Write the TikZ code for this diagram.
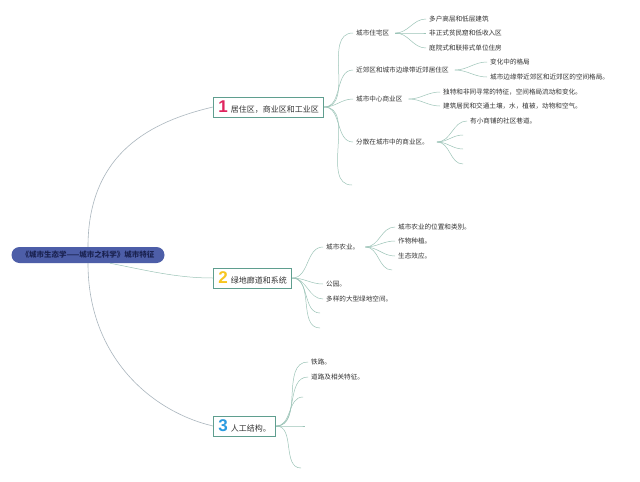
\documentclass[tikz,border=0pt]{standalone}
\usepackage{fontspec}
\setmainfont{Noto Sans CJK SC}
\newfontfamily\numfont{Liberation Sans}
\definecolor{rootc}{HTML}{4D5EA8}
\definecolor{roottext}{HTML}{1A2250}
\definecolor{boxc}{HTML}{5F9E8F}
\definecolor{linec}{HTML}{9CC4B8}
\definecolor{rootline}{HTML}{AAB6BE}
\definecolor{txt}{HTML}{333333}
\definecolor{numa}{HTML}{E0245E}
\definecolor{numb}{HTML}{F7C520}
\definecolor{numc}{HTML}{2B9BE0}
\begin{document}
\begin{tikzpicture}[x=1pt,y=-1pt,
  lbl/.style={anchor=west, inner xsep=3pt, inner ysep=1pt, font=\fontsize{6.6}{8}\selectfont, text=txt},
  mainbox/.style={draw=boxc, line width=0.8pt, fill=white, anchor=west, inner xsep=5pt, inner ysep=0pt, minimum height=20pt, font=\fontsize{8}{9}\selectfont, text=txt},
  br/.style={draw=linec, line width=0.5pt},
  rl/.style={draw=rootline, line width=0.6pt}
]
\useasboundingbox (0,0) rectangle (640,482);
\fill[white] (0,0) rectangle (640,482);

% root
\node[fill=rootc, rounded corners=8pt, minimum height=16pt, minimum width=153pt, inner sep=0pt,
  font=\fontsize{7.5}{9}\selectfont\bfseries, text=roottext] (root) at (88,255) {《城市生态学——城市之科学》城市特征};

% main topics
\node[mainbox] (n1) at (213,107) {{\numfont\bfseries\fontsize{17}{17}\selectfont\textcolor{numa}{1}}\hspace{3pt}居住区，商业区和工业区};
\node[mainbox] (n2) at (213,278) {{\numfont\bfseries\fontsize{17}{17}\selectfont\textcolor{numb}{2}}\hspace{3pt}绿地廊道和系统};
\node[mainbox] (n3) at (213,426) {{\numfont\bfseries\fontsize{17}{17}\selectfont\textcolor{numc}{3}}\hspace{3pt}人工结构。};

\draw[rl] (root.north) .. controls +(0,-95) and +(-60,14) .. (n1.west);
\draw[rl] (root.south) .. controls +(0,95) and +(-60,-14) .. (n3.west);
\draw[br] ([xshift=22pt]root.south) .. controls +(40,8) and +(-35,0) .. (n2.west);

% n1 children
\node[lbl] (a1) at (353,33) {城市住宅区};
\node[lbl] (a2) at (353,70) {近郊区和城市边缘带近郊居住区};
\node[lbl] (a3) at (353,99) {城市中心商业区};
\node[lbl] (a4) at (353,142) {分散在城市中的商业区。};
\coordinate (a5) at (352,185);
\foreach \t in {a1,a2,a3,a4,a5} \draw[br] (n1.east) to[out=0,in=180] (\t.west);

\node[lbl] (a11) at (426,19) {多户高层和低层建筑};
\node[lbl] (a12) at (426,33) {非正式贫民窟和低收入区};
\node[lbl] (a13) at (426,48) {庭院式和联排式单位住房};
\foreach \t in {a11,a12,a13} \draw[br] ([xshift=3pt]a1.east) to[out=0,in=180] (\t.west);

\node[lbl] (a21) at (487,62) {变化中的格局};
\node[lbl] (a22) at (487,77) {城市边缘带近郊区和近郊区的空间格局。};
\foreach \t in {a21,a22} \draw[br] ([xshift=3pt]a2.east) to[out=0,in=180] (\t.west);

\node[lbl] (a31) at (440,92) {独特和非同寻常的特征，空间格局流动和变化。};
\node[lbl] (a32) at (440,106) {建筑居民和交通土壤，水，植被，动物和空气。};
\foreach \t in {a31,a32} \draw[br] ([xshift=3pt]a3.east) to[out=0,in=180] (\t.west);

\node[lbl] (a41) at (467,121) {有小商铺的社区巷道。};
\coordinate (a42) at (463,135);
\coordinate (a43) at (463,149);
\coordinate (a44) at (463,164);
\foreach \t in {a41,a42,a43,a44} \draw[br] ([xshift=5pt]a4.east) to[out=0,in=180] (\t.west);

% n2 children
\node[lbl] (b1) at (323,247) {城市农业。};
\node[lbl] (b2) at (323,284) {公园。};
\node[lbl] (b3) at (323,299) {多样的大型绿地空间。};
\coordinate (b4) at (320,313);
\coordinate (b5) at (320,328);
\foreach \t in {b1,b2,b3,b4,b5} \draw[br] (n2.east) to[out=0,in=180] (\t.west);

\node[lbl] (b11) at (395,227) {城市农业的位置和类别。};
\node[lbl] (b12) at (395,241) {作物种植。};
\node[lbl] (b13) at (395,256) {生态效应。};
\coordinate (b14) at (392,270);
\foreach \t in {b11,b12,b13,b14} \draw[br] ([xshift=3pt]b1.east) to[out=0,in=180] (\t.west);

% n3 children
\node[lbl] (c1) at (308,362) {铁路。};
\node[lbl] (c2) at (308,377) {道路及相关特征。};
\coordinate (c3) at (303,397);
\coordinate (c4) at (305,426);
\coordinate (c5) at (301,468);
\foreach \t in {c1,c2,c3,c4,c5} \draw[br] (n3.east) to[out=0,in=180] (\t.west);
\end{tikzpicture}
\end{document}
